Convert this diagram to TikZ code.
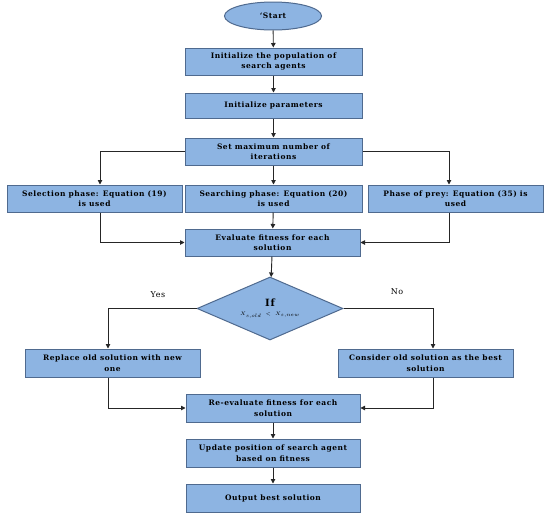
\documentclass[tikz,border=0pt]{standalone}
\usepackage{fontspec}
\setmainfont{DejaVu Serif}[LetterSpace=7]
\usetikzlibrary{shapes.geometric,arrows.meta}
\definecolor{boxfill}{HTML}{8DB4E2}
\definecolor{boxline}{HTML}{4F6A8F}

\tikzset{
  stepbox/.style={draw=boxline, fill=boxfill, line width=1pt, minimum height=27pt,
    align=center, inner sep=1pt, font=\fontsize{7.5}{10.5}\selectfont\bfseries},
  flow/.style={-{Triangle[length=4.5pt,width=4.5pt]}, line width=0.9pt, draw=black!85},
  branch/.style={font=\fontsize{8}{9}\selectfont}
}

\begin{document}
\begin{tikzpicture}[x=1pt,y=-1pt]
\useasboundingbox[fill=white] (0,0) rectangle (550,517);
% top chain
\node[stepbox, ellipse, minimum width=97pt, minimum height=28pt] (start) at (273,16) {`Start};
\node[stepbox, minimum width=177pt] (init) at (273.5,61.5) {Initialize the population of\\search agents};
\node[stepbox, minimum width=177pt, minimum height=25pt] (param) at (273.5,105.5) {Initialize parameters};
\node[stepbox, minimum width=177pt] (maxit) at (273.5,151.5) {Set maximum number of\\iterations};
% three phases
\node[stepbox, minimum width=175pt] (sel) at (94.5,198.5) {Selection phase: Equation (19)\\is used};
\node[stepbox, minimum width=177pt] (srch) at (273.5,198.5) {Searching phase: Equation (20)\\is used};
\node[stepbox, minimum width=175pt] (prey) at (455.5,198.5) {Phase of prey: Equation (35) is\\used};
\node[stepbox, minimum width=175pt] (evalf) at (272.5,242.5) {Evaluate fitness for each\\solution};
% decision
\node[stepbox, diamond, minimum width=146pt, minimum height=63pt, aspect=2.3, inner sep=0pt,
  font=\fontsize{10}{10}\selectfont\bfseries] (cond) at (270,308.5)
  {If\\[-1pt]{\fontsize{5}{6}\selectfont\mdseries$X_{s,old}\;<\;X_{s,new}$}};
\node[stepbox, minimum width=175pt, minimum height=28pt] (repl) at (112.5,363) {Replace old solution with new\\one};
\node[stepbox, minimum width=175pt, minimum height=28pt] (cons) at (425.5,363) {Consider old solution as the best\\solution};
% bottom chain
\node[stepbox, minimum width=174pt, minimum height=28pt] (reeval) at (273,408) {Re-evaluate fitness for each\\solution};
\node[stepbox, minimum width=174pt, minimum height=28pt] (upd) at (273,453) {Update position of search agent\\based on fitness};
\node[stepbox, minimum width=174pt, minimum height=28pt] (outb) at (273,498) {Output best solution};
\node[branch] (yes) at (158,295) {Yes};
\node[branch] (no) at (397,292) {No};

\draw[flow] (start) -- (init);
\draw[flow] (init) -- (param);
\draw[flow] (param) -- (maxit);
\draw[flow] (maxit) -- (srch);
\draw[flow] (maxit.west) -| ([xshift=5.5pt]sel.north);
\draw[flow] (maxit.east) -| ([xshift=-6.5pt]prey.north);
\draw[flow] ([xshift=5.5pt]sel.south) |- (evalf.west);
\draw[flow] ([xshift=-6.5pt]prey.south) |- (evalf.east);
\draw[flow] (srch) -- (evalf);
\draw[flow] (evalf) -- (cond);
\draw[flow] (cond.west) -| ([xshift=-4.5pt]repl.north);
\draw[flow] (cond.east) -| ([xshift=7.5pt]cons.north);
\draw[flow] ([xshift=-4.5pt]repl.south) |- (reeval.west);
\draw[flow] ([xshift=7.5pt]cons.south) |- (reeval.east);
\draw[flow] (reeval) -- (upd);
\draw[flow] (upd) -- (outb);
\end{tikzpicture}
\end{document}
